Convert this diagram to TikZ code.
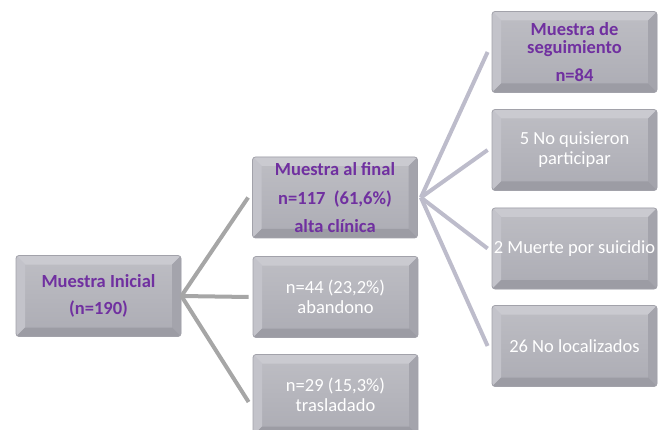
\documentclass[tikz,border=0pt]{standalone}
\usepackage{fontspec}
\setmainfont{Carlito}
\definecolor{morado}{HTML}{7030A0}
\definecolor{cajaarriba}{HTML}{BEBEC4}
\definecolor{cajaabajo}{HTML}{ACACB4}
\definecolor{cajaborde}{HTML}{A2A2AA}
\definecolor{biselsup}{HTML}{CACAD0}
\definecolor{biselizq}{HTML}{C3C3CA}
\definecolor{biselder}{HTML}{A4A4AC}
\definecolor{biselinf}{HTML}{9C9CA4}
\definecolor{grisrama}{HTML}{A6A6A6}
\definecolor{lilarama}{HTML}{BDBCCB}
\begin{document}
\begin{tikzpicture}[x=1pt,y=-1pt,
  caja/.style={draw=cajaborde,line width=0.8pt,rounded corners=3pt,
    top color=cajaarriba,bottom color=cajaabajo,
    minimum width=165pt,minimum height=81pt,inner sep=0pt,align=center,
    path picture={
      \path (path picture bounding box.north west) coordinate (a)
            (path picture bounding box.north east) coordinate (b)
            (path picture bounding box.south east) coordinate (c)
            (path picture bounding box.south west) coordinate (d);
      \fill[biselsup,sharp corners] (a) -- (b) -- ([shift={(-9pt,-9pt)}]b) -- ([shift={(9pt,-9pt)}]a) -- cycle;
      \fill[biselizq,sharp corners] (a) -- (d) -- ([shift={(9pt,9pt)}]d) -- ([shift={(9pt,-9pt)}]a) -- cycle;
      \fill[biselder,sharp corners] (b) -- (c) -- ([shift={(-9pt,9pt)}]c) -- ([shift={(-9pt,-9pt)}]b) -- cycle;
      \fill[biselinf,sharp corners] (d) -- (c) -- ([shift={(-9pt,9pt)}]c) -- ([shift={(9pt,9pt)}]d) -- cycle;
    }},
  titulo/.style={text=morado,font=\fontsize{18.5}{22}\selectfont\bfseries},
  nota/.style={text=white,font=\fontsize{18.5}{22}\selectfont},
  rama/.style={line width=4pt,grisrama},
  ramab/.style={line width=4pt,lilarama}]
\useasboundingbox (0,0) rectangle (658,430);

\node[caja,titulo] (ini) at (98.5,296) {Muestra Inicial\\[5pt](n=190)};

\node[caja,titulo] (fin) at (335,197.5) {Muestra al final\\[7pt]n=117\ \ (61,6\%)\\[6pt]alta clínica};
\node[caja,nota] (aba) at (335.5,297) {n=44 (23,2\%)\\[-2pt]abandono};
\node[caja,nota] (tra) at (335.5,395) {n=29 (15,3\%)\\[-2pt]trasladado};

\node[caja,titulo] (seg) at (574.5,52) {Muestra de\\[-4pt]seguimiento\\[6pt]n=84};
\node[caja,nota] (noq) at (574.5,150) {5 No quisieron\\[-2pt]participar};
\node[caja,nota] (mue) at (574.5,248.5) {2 Muerte por suicidio};
\node[caja,nota] (nol) at (574.5,346) {26 No localizados};

\draw[rama] (ini.east) -- ([xshift=-4pt]fin.west);
\draw[rama] (ini.east) -- ([xshift=-4pt]aba.west);
\draw[rama] (ini.east) -- ([xshift=-4pt,yshift=-7pt]tra.west);

\draw[ramab] ([xshift=3pt]fin.east) -- ([xshift=-4pt]seg.west);
\draw[ramab] ([xshift=3pt]fin.east) -- ([xshift=-4pt]noq.west);
\draw[ramab] ([xshift=3pt]fin.east) -- ([xshift=-4pt]mue.west);
\draw[ramab] ([xshift=3pt]fin.east) -- ([xshift=-4pt]nol.west);
\end{tikzpicture}
\end{document}
